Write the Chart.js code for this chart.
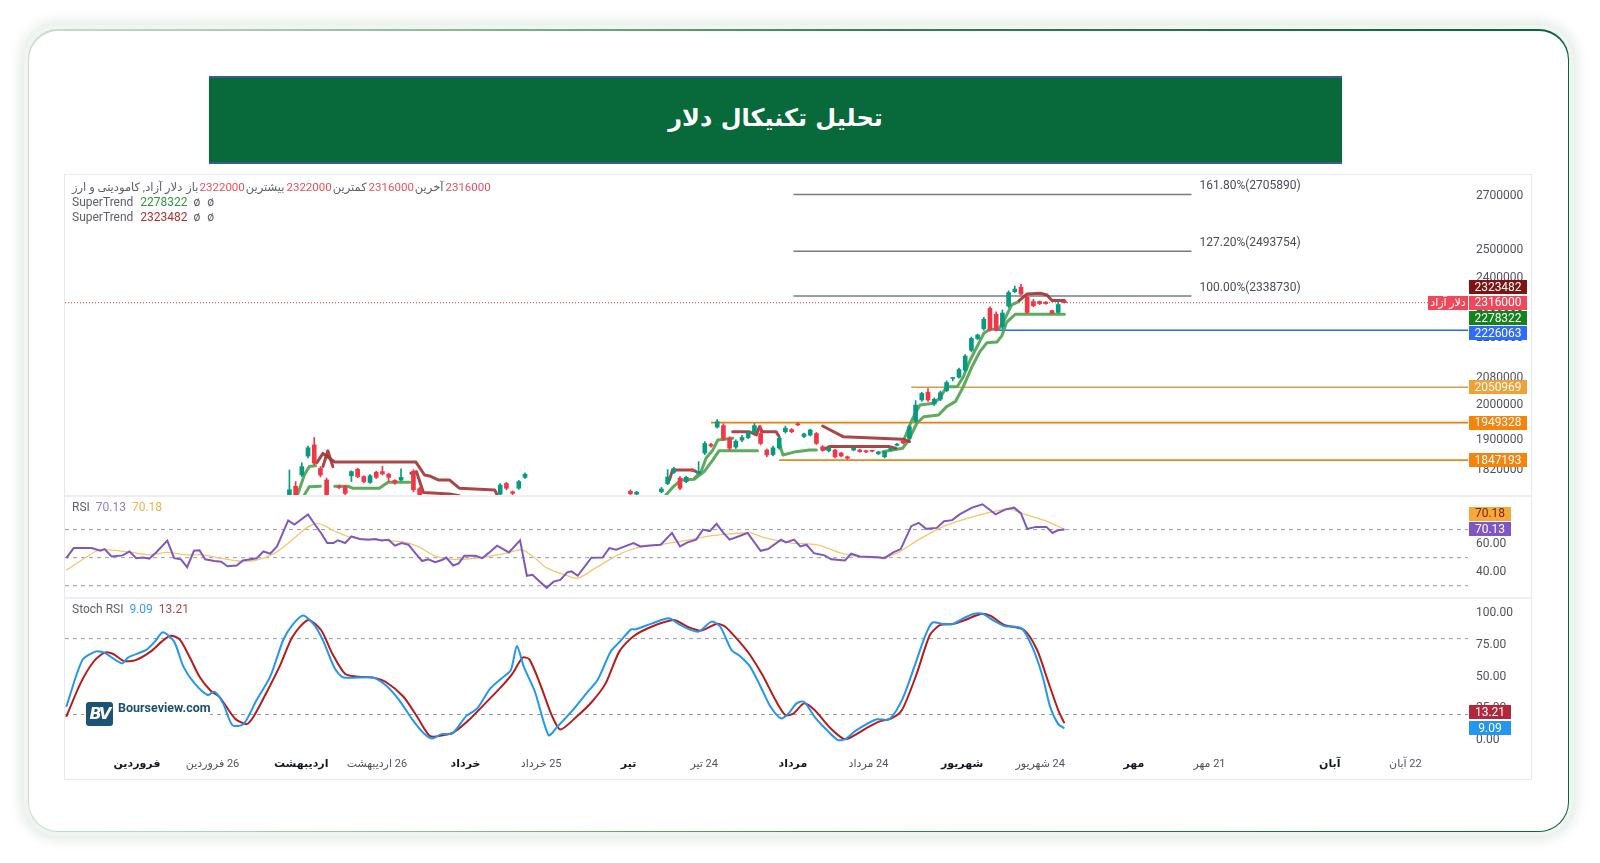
<!DOCTYPE html>
<html lang="fa">
<head>
<meta charset="utf-8">
<title>تحلیل تکنیکال دلار</title>
<script src="https://cdn.jsdelivr.net/npm/chart.js@4.4.1/dist/chart.umd.min.js"></script>
<style>
  html, body { margin: 0; padding: 0; width: 1600px; height: 863px; overflow: hidden; background: #ffffff; }
  body { position: relative; font-family: Roboto, "DejaVu Sans", sans-serif; }
  .card { position: absolute; left: 28px; top: 29px; width: 1541px; height: 803px; border-radius: 30px;
    background: linear-gradient(90deg, #c9dccd 0%, #8fbf9c 25%, #2f8253 55%, #0a6536 100%);
    box-shadow: 0 0 0 4px #f1f5f2, 0 0 14px 8px #e3ebe5; }
  .card-inner { position: absolute; left: 1px; right: 1px; top: 2px; bottom: 1px; border-radius: 29px; background: #fff; }
  .banner { position: absolute; left: 209px; top: 76px; width: 1133px; height: 88px; box-sizing: border-box;
    background: #08693a; border-top: 2px solid #3c5b8f; border-bottom: 2px solid #3c5b8f;
    display: flex; align-items: center; justify-content: center; direction: rtl;
    color: #fff; font: bold 24px "DejaVu Sans", sans-serif; padding-bottom: 4px; }
  .panel { position: absolute; left: 64px; top: 174px; width: 1468px; height: 606px; box-sizing: border-box;
    border: 1px solid #e7e9ec; background: #fff; }
  .sep { position: absolute; left: 65px; width: 1466px; height: 2px; background: #eceef1; }
  canvas { position: absolute; left: 65px; }
  .logo { position: absolute; left: 84px; top: 700px; width: 126px; height: 28px; background: #fff; }
  .logo .bv { position: absolute; left: 2px; top: 2px; width: 27px; height: 24px; border-radius: 3px; background: #1b5473;
    color: #fff; font: italic bold 16px "DejaVu Sans", sans-serif; line-height: 24px; text-align: center; letter-spacing: -2px; }
  .logo .name { position: absolute; left: 34px; top: 0; line-height: 28px; color: #1b4f6e; font: bold 12.5px Roboto, sans-serif; }
</style>
</head>
<body>
<div class="card"><div class="card-inner"></div></div>
<div class="banner">تحلیل تکنیکال دلار</div>
<div class="panel"></div>
<canvas id="priceChart" width="1466" height="319" style="top:176px"></canvas>
<div class="sep" style="top:495px"></div>
<canvas id="rsiChart" width="1466" height="100" style="top:497px"></canvas>
<div class="sep" style="top:597px"></div>
<canvas id="stochChart" width="1466" height="180" style="top:599px" dir="rtl"></canvas>
<div class="logo"><span class="bv">BV</span><span class="name">Bourseview.com</span></div>

<script>
// ---- data (bar index on x, one bar per trading day) ----
const candleIndex = [36, 37, 38, 39, 40, 41, 42, 44, 45, 46, 47, 48, 49, 50, 51, 52, 53, 54, 56, 57,
  70, 71, 72, 73, 74, 91, 92, 96,
  97, 98, 99, 100, 101, 102, 103, 104, 105, 106,
  107, 108, 109, 110, 111, 112, 113, 114, 115, 116,
  117, 118, 119, 120, 121, 122, 123, 124, 125, 126,
  127, 128, 129, 130, 131, 132, 133, 134, 135, 136,
  137, 138, 139, 140, 141, 142, 143, 144, 145, 146,
  147, 148, 149, 150, 151, 152, 153, 154, 155, 156,
  157, 158, 159, 160, 161];
const candleOpen = [1750000, 1779000, 1808000, 1858000, 1888000, 1825000, 1795000, 1779000, 1779000, 1806000,
  1823000, 1804000, 1789000, 1815000, 1817000, 1810000, 1794000, 1795000, 1817000, 1773000,
  1759000, 1786000, 1765000, 1774000, 1802000, 1766000, 1759000, 1765000,
  1786000, 1815000, 1800000, 1791000, 1822000, 1812000, 1866000, 1889000, 1937000, 1941000,
  1906000, 1882000, 1901000, 1908000, 1922000, 1919000, 1874000, 1862000, 1880000, 1924000,
  1930000, 1946000, 1911000, 1915000, 1919000, 1883000, 1872000, 1874000, 1866000, 1856000,
  1874000, 1874000, 1872000, 1872000, 1864000, 1856000, 1874000, 1887000, 1899000, 1906000,
  1953000, 2014000, 2036000, 2002000, 2016000, 2041000, 2077000, 2081000, 2102000, 2163000,
  2200000, 2231000, 2297000, 2278000, 2237000, 2305000, 2353000, 2368000, 2334000, 2320000,
  2320000, 2318000, 2290000, 2284000, 2322000];
const candleHigh = [1821000, 1791000, 1840000, 1885000, 1908000, 1830000, 1800000, 1782000, 1781000, 1819000,
  1826000, 1806000, 1809000, 1818000, 1831000, 1813000, 1796000, 1824000, 1822000, 1776000,
  1786000, 1789000, 1767000, 1794000, 1814000, 1770000, 1766000, 1776000,
  1822000, 1828000, 1804000, 1805000, 1824000, 1843000, 1897000, 1893000, 1958000, 1946000,
  1910000, 1902000, 1914000, 1926000, 1947000, 1941000, 1877000, 1885000, 1912000, 1940000,
  1933000, 1950000, 1920000, 1931000, 1922000, 1886000, 1881000, 1876000, 1868000, 1858000,
  1881000, 1876000, 1874000, 1873000, 1871000, 1871000, 1881000, 1892000, 1902000, 1942000,
  2012000, 2036000, 2047000, 2020000, 2040000, 2070000, 2080000, 2108000, 2150000, 2205000,
  2214000, 2268000, 2302000, 2286000, 2292000, 2356000, 2372000, 2378000, 2342000, 2327000,
  2322000, 2320000, 2292000, 2320000, 2322000];
const candleLow = [1745000, 1745000, 1804000, 1853000, 1835000, 1803000, 1745000, 1773000, 1757000, 1791000,
  1801000, 1788000, 1786000, 1799000, 1808000, 1791000, 1784000, 1793000, 1765000, 1750000,
  1754000, 1770000, 1758000, 1771000, 1799000, 1757000, 1756000, 1762000,
  1783000, 1812000, 1770000, 1788000, 1817000, 1810000, 1862000, 1882000, 1934000, 1900000,
  1873000, 1878000, 1897000, 1905000, 1919000, 1888000, 1856000, 1858000, 1876000, 1920000,
  1921000, 1941000, 1908000, 1912000, 1889000, 1872000, 1869000, 1853000, 1856000, 1849000,
  1872000, 1868000, 1867000, 1869000, 1862000, 1853000, 1872000, 1885000, 1891000, 1903000,
  1950000, 2010000, 2010000, 1998000, 2012000, 2038000, 2070000, 2078000, 2098000, 2158000,
  2196000, 2226000, 2224000, 2224000, 2230000, 2300000, 2350000, 2342000, 2280000, 2303000,
  2310000, 2311000, 2279000, 2282000, 2316000];
const candleClose = [1770000, 1752000, 1830000, 1880000, 1839000, 1808000, 1752000, 1776000, 1761000, 1817000,
  1804000, 1791000, 1806000, 1802000, 1811000, 1802000, 1787000, 1802000, 1770000, 1755000,
  1782000, 1774000, 1761000, 1791000, 1810000, 1760000, 1764000, 1772000,
  1803000, 1824000, 1774000, 1802000, 1819000, 1817000, 1892000, 1885000, 1952000, 1904000,
  1879000, 1898000, 1908000, 1922000, 1941000, 1892000, 1861000, 1880000, 1906000, 1934000,
  1924000, 1943000, 1918000, 1929000, 1892000, 1874000, 1879000, 1856000, 1858000, 1852000,
  1879000, 1870000, 1869000, 1871000, 1869000, 1869000, 1879000, 1890000, 1893000, 1938000,
  1999000, 2033000, 2014000, 2016000, 2035000, 2065000, 2078000, 2104000, 2145000, 2200000,
  2211000, 2262000, 2227000, 2227000, 2282000, 2350000, 2362000, 2345000, 2284000, 2306000,
  2313000, 2313000, 2281000, 2310000, 2316000];

// supertrend pieces: [bar, price]
const superTrendUp = [
  [[37.3, 1756800], [38.4, 1808200], [39.2, 1830000], [40.2, 1832000]],
  [[38.4, 1756800], [39.2, 1778000], [41, 1779000]],
  [[43.3, 1779000], [45.4, 1779000], [46.2, 1774000], [50.5, 1774000], [51.9, 1789000], [55.4, 1789000]],
  [[96.5, 1752600], [97.8, 1775900], [99.2, 1795300], [101.3, 1797100], [102.9, 1816900], [104.3, 1847600], [105.3, 1872400], [111.5, 1872400]],
  [[101.3, 1799700], [102.4, 1816900], [103.2, 1852100], [104.3, 1874300], [105.1, 1901300], [107.5, 1906000]],
  [[115, 1892300], [115.6, 1860900], [117.7, 1869700], [119.9, 1874300], [121, 1874300]],
  [[131.7, 1869700], [134.9, 1878900], [135.9, 1901300], [137.2, 1947600], [138.3, 1966000], [140.7, 1970900], [142, 1994700], [143.4, 2009000], [144.7, 2052700], [146.1, 2112800], [147.4, 2159800], [148.5, 2186700], [150.1, 2188600], [150.9, 2208200], [151.7, 2252600], [153.1, 2278322], [161, 2278322]],
  [[135.1, 1901300], [136.4, 1956700], [137.7, 1999500], [139.9, 2004400], [140.9, 2018900], [142, 2052700], [143.7, 2052700], [144.7, 2082300], [145.8, 2133000], [146.9, 2174100], [148, 2216300], [149, 2229100], [150.4, 2229100], [151.3, 2259300], [152.5, 2308800], [153.6, 2319800]]
];
const superTrendDown = [
  [[40.4, 1840000], [41.4, 1865000], [43.3, 1842000], [56.4, 1842000], [57.8, 1808000], [58.6, 1805500], [60, 1795300], [61.8, 1795300], [63.4, 1774000], [69.1, 1769700], [69.9, 1744200]],
  [[41.4, 1830000], [42.2, 1872000], [43, 1830000]],
  [[55.6, 1812600], [56.5, 1816500], [57.6, 1763000], [61.8, 1759600], [63.4, 1754800]],
  [[97.3, 1795300], [97.8, 1821300], [101, 1821300], [101.6, 1816900]],
  [[107.5, 1924000], [110.2, 1924000], [111.3, 1915000], [111.8, 1938000], [112.3, 1924000], [114.5, 1924000], [115, 1910000]],
  [[122, 1940000], [125.3, 1910400], [134.9, 1903300], [136, 1896800]],
  [[122, 1874300], [123.1, 1883300], [132.8, 1883300], [133.8, 1878900]],
  [[153.7, 2323100], [155, 2345400], [157.1, 2347800], [158.2, 2342000], [159, 2323100], [161, 2323482]]
];

const fibValues = [2705890, 2493754, 2338730];
const fibTexts = ["161.80%(2705890)", "127.20%(2493754)", "100.00%(2338730)"];
const fibFrom = 117.3, fibTo = 181.5;

const levelValues = [2226063, 2050969, 1949328, 1847193];
const levelFrom = [149.8, 136.3, 104, 115];
const levelColors = ["#2962ff", "#d99a45", "#f57c00", "#e08a1e"];

const lastPrice = 2316000;
const priceTicks = [1820000, 1900000, 2000000, 2080000, 2200000, 2300000, 2400000, 2500000, 2700000];

const rsiLine = [[0, 49.6], [1.2, 56.8], [4.1, 56.8], [5.5, 54.9], [6.2, 56.1], [7.3, 50.8], [9.1, 51.6], [10.2, 54.4], [11.3, 49.6], [12.4, 50.1],
  [13.4, 49.3], [14.5, 53.7], [16.3, 62.1], [17.4, 49.6], [18.5, 48.8], [19.5, 43.2], [20.6, 54.9], [21.5, 55.2], [22.4, 48.8], [23.9, 47.6],
  [25, 47.1], [26, 43.9], [27.5, 44.4], [28.5, 48], [30.7, 49.5], [31.8, 54.4], [32.9, 52.8], [34, 58], [35.8, 76.5], [36.8, 73.6],
  [37.9, 77.2], [39, 80.8], [40.1, 73.6], [41.1, 67.6], [42.1, 60.4], [43.1, 60.4], [43.8, 62.3], [45, 60.4], [46, 65.2], [47.3, 63.3],
  [48.7, 62.8], [49.8, 63.3], [50.9, 62.3], [52, 62.8], [53, 58.5], [54.1, 60.4], [55.2, 59.2], [56.3, 53.2], [57.4, 47.6], [58.4, 48.8],
  [59.5, 46.8], [60.6, 48.3], [61.3, 50], [62.4, 44.4], [63.3, 45.9], [64.2, 51.3], [66, 51.3], [67.1, 49.6], [68.1, 53.2], [69.5, 58.5],
  [71.4, 53.7], [73.2, 62.3], [74.3, 37.1], [75.2, 37.8], [76.4, 32.9], [77.5, 28.5], [78.6, 32.9], [79.7, 34.1], [80.8, 39.5], [81.5, 40.2],
  [82.5, 37.1], [84.7, 50], [86.5, 50.1], [87.6, 56.8], [88.7, 55.6], [90.1, 58], [91.5, 60.4], [92.6, 58], [94.1, 58.7], [95.9, 59.2],
  [97.7, 67.6], [99, 58], [100.2, 60.9], [101.6, 62.8], [102.7, 70], [103.8, 68.8], [104.9, 74.1], [106, 67.6], [107, 62.8], [108.5, 65.2],
  [109.9, 67.6], [112, 54.9], [113.2, 56.1], [115.3, 62.8], [116.1, 60.9], [117.4, 62.8], [118.4, 58], [119.4, 59.2], [120.6, 53.2], [122.3, 51.6],
  [123.4, 48.8], [125.6, 48], [126.6, 52.8], [128, 50.8], [130.9, 50.3], [132, 49.6], [133.4, 53.7], [134.6, 56.1], [136.3, 72.4], [137.5, 74.8],
  [138.7, 70.5], [140.4, 71.2], [141.6, 76], [142.9, 76.7], [144.1, 80.8], [146.1, 85.6], [147.8, 88], [149.9, 80.8], [151.5, 84.4], [152.9, 85.6],
  [154, 81.5], [155, 70.5], [156.4, 71.9], [158.1, 71.9], [159.1, 67.6], [159.9, 69.5], [161, 70.13]];
const rsiAverage = [[0, 41], [2.7, 48.8], [5, 54.9], [7, 55.6], [10.6, 53.7], [13.4, 52], [16.3, 53.7], [19.2, 52], [22.1, 52], [24.3, 50],
  [27.8, 47.6], [30.7, 48.3], [33.6, 53.2], [36.5, 62.8], [39, 71.9], [40.8, 74.1], [43, 69.5], [45.9, 64.5], [49.5, 62.8], [54.5, 61.1],
  [56.7, 58], [59.5, 51.3], [62.4, 48.8], [65.3, 49.3], [68.1, 50.8], [71, 53.2], [73.5, 55.6], [75.3, 50.8], [77.5, 42.7], [80.4, 37.8],
  [82.5, 35.4], [85.4, 42.7], [89, 52], [91.9, 56.8], [95.5, 59.2], [99.8, 62.1], [103.4, 65.2], [107, 66.9], [110.3, 67.6], [112.7, 64],
  [117, 60.4], [121, 59.2], [125, 53.2], [128.3, 50.3], [131.5, 50.1], [134, 53.2], [137.5, 62.8], [141.6, 72.4], [145.7, 78.4], [149.9, 83.2],
  [152.3, 84.4], [154.7, 80.8], [158.1, 76], [161, 70.18]];
const rsiLevels = [70, 50, 30];
const rsiTicks = [40, 60, 80];

const stochK = [[0, 26], [2.6, 63], [4.7, 69.7], [6.1, 68.9], [9, 60.4], [10, 65.2], [12.9, 71], [14.3, 77.6], [15.6, 85], [17.4, 77.6],
  [18.9, 57.8], [20.7, 44.6], [22.8, 35.4], [23.9, 38], [25.3, 28.8], [26.8, 11.6], [28.6, 12.4], [30.7, 31.4], [32.9, 49.9], [35, 78.9],
  [36.5, 90.8], [38.2, 98.2], [40, 90.8], [41.5, 77.6], [43.3, 56.5], [44.7, 49.3], [49.4, 49.3], [51.5, 43.3], [53.7, 31.4], [55.9, 15.6],
  [57.7, 5], [59.1, 1], [60.5, 4.5], [62.3, 5], [64.5, 18.7], [66.3, 24.8], [68.4, 40.6], [70.2, 48.5], [71.7, 55.1], [72.7, 74.1],
  [73.8, 57.8], [75.6, 38], [77.8, 3.7], [79.2, 10.3], [81.7, 23.5], [83.9, 36.7], [85.7, 47.2], [87.8, 69.7], [89.3, 77.6], [91.1, 87.3],
  [91.8, 87.3], [94.3, 91.6], [97.2, 96], [99, 90.8], [101.9, 85.5], [104.1, 93.4], [105.5, 89.4], [107.3, 71], [108.7, 66], [110.3, 57.8],
  [112, 42], [113.6, 26.1], [115.3, 16.9], [116.5, 20.8], [117.8, 28.8], [119, 30.1], [120.7, 18.2], [122.8, 7.1], [124.4, 0], [125.6, 0.3],
  [127.3, 7.1], [130.6, 16.1], [132.7, 16.1], [134.8, 31.4], [136.8, 57.8], [138.5, 81.5], [139.7, 92.6], [141.4, 91.6], [143, 91.6], [144.7, 96],
  [146.3, 99.5], [147.9, 99.5], [149.6, 94.2], [151.3, 90], [154.1, 88.1], [155.8, 73.6], [157.5, 49.9], [158.7, 26.1], [160, 12.4], [161, 9.09]];
const stochD = [[0, 18.2], [2.3, 44.6], [4.4, 61.7], [6.2, 68.9], [7.6, 67.8], [9.3, 62.3], [11.2, 63], [13.6, 69.7], [15.4, 77.6], [16.8, 82.3],
  [18.3, 79.4], [20, 64.4], [21.5, 49.9], [23.3, 38.8], [24.7, 34], [27.2, 16.9], [29.1, 12.4], [30.2, 18.2], [32.1, 35.4], [34.4, 57.8],
  [36.5, 81.5], [39, 94.7], [41.1, 86.8], [42.9, 68.3], [45, 52], [47.2, 49.9], [49.4, 49.3], [51.5, 45.9], [54.4, 34], [56.6, 18.2],
  [58.7, 2.9], [60.9, 3.7], [62.6, 6.3], [65.2, 16.9], [68.1, 31.4], [70.2, 42], [72, 52.5], [73.6, 64.9], [74.7, 63.6], [76.5, 43.3],
  [78.3, 19.5], [79.7, 8.2], [82.3, 18.2], [84.8, 30.1], [87, 44.6], [89.2, 69.7], [91.4, 81.5], [94.4, 89.4], [98, 94.7], [100.2, 89.4],
  [102.4, 86.3], [104.9, 91.6], [106.3, 89.4], [108.7, 76.8], [110.3, 67], [112.3, 51.2], [114.4, 31.4], [116, 19.5], [117.3, 20.8], [119, 28.8],
  [120.7, 23.5], [123.2, 9.5], [125.3, 1], [126.5, 1.8], [129, 9], [131, 14.2], [133.1, 16.9], [134.8, 23.5], [137.2, 52.5], [139.3, 82.8],
  [141, 90.8], [143, 91.6], [145, 94.7], [147.5, 99.5], [149.1, 97.9], [151.3, 90.8], [154.5, 86.8], [156.6, 71], [158.3, 47.2], [160, 23.5], [161, 13.21]];
const stochLevels = [80, 20];
const stochTicks = [0, 25, 50, 75, 100];

const timeTickPos = [11.4, 23.6, 37.9, 50.1, 64.4, 76.6, 90.7, 102.9, 117.2, 129.4, 144.5, 157.1, 172.2, 184.4, 203.8, 216];
const timeTickText = ["فروردین", "26 فروردین", "اردیبهشت", "26 اردیبهشت", "خرداد", "25 خرداد", "تیر", "24 تیر",
  "مرداد", "24 مرداد", "شهریور", "24 شهریور", "مهر", "21 مهر", "آبان", "22 آبان"];

// ---- view ----
const X_MIN = -0.2, X_MAX = 226.1;
const AXIS_W = 63;
const FONT = "Roboto, 'DejaVu Sans', sans-serif";
const UP = "#089981", DOWN = "#f23645";
const ST_UP = "rgba(84,166,86,0.95)", ST_DOWN = "rgba(163,54,54,0.92)";

Chart.defaults.font.family = FONT;

const toPoints = (pairs) => pairs.map((p) => ({ x: p[0], y: p[1] }));

function hLine(value, from, to, color, width, dash) {
  return {
    type: "line",
    data: [{ x: from, y: value }, { x: to, y: value }],
    borderColor: color,
    borderWidth: width,
    borderDash: dash || [],
    pointRadius: 0,
    fill: false,
  };
}

function stLine(pairs, color) {
  return {
    type: "line",
    data: toPoints(pairs),
    borderColor: color,
    borderWidth: 3,
    borderJoinStyle: "round",
    borderCapStyle: "round",
    pointRadius: 0,
    tension: 0,
    fill: false,
  };
}

function drawTag(ctx, x, y, w, h, bg, fg, text) {
  ctx.fillStyle = bg;
  ctx.fillRect(x, Math.round(y - h / 2), w, h);
  ctx.fillStyle = fg;
  ctx.textAlign = "center";
  ctx.textBaseline = "middle";
  ctx.fillText(text, x + w / 2, y + 0.5);
}

// keep the anchor tag on its value and push the others away from it
function stackTags(ys, anchor, gap) {
  const out = ys.slice();
  for (let i = anchor - 1; i >= 0; i--) out[i] = Math.min(ys[i], out[i + 1] - gap);
  for (let i = anchor + 1; i < ys.length; i++) out[i] = Math.max(ys[i], out[i - 1] + gap);
  return out;
}

function drawRuns(ctx, runs, x, y) {
  ctx.textAlign = "left";
  ctx.textBaseline = "middle";
  runs.forEach(([text, color, gap]) => {
    ctx.fillStyle = color;
    ctx.fillText(text, x, y);
    x += ctx.measureText(text).width + gap;
  });
}

// fixed axis width and no label padding, so the three panes share one x mapping
function fitRight(s) {
  s.width = AXIS_W;
  s.paddingTop = 0;
  s.paddingBottom = 0;
}

function rightAxis(extra) {
  return Object.assign({
    position: "right",
    beginAtZero: false,
    afterFit: fitRight,
    grid: { display: false, drawTicks: false },
    border: { display: false },
  }, extra);
}

const baseOptions = {
  responsive: false,
  animation: false,
  events: [],
  layout: { padding: 0 },
  plugins: { legend: { display: false }, tooltip: { enabled: false } },
};

const hiddenX = { type: "linear", min: X_MIN, max: X_MAX, offset: false, display: false };

document.addEventListener("DOMContentLoaded", () => {
  const GRAY = "#5d606b";
  const NUM_RED = "#e8505b";

  // ---------- price pane ----------
  const bodies = candleIndex.map((b, i) => ({ x: b, y: [candleOpen[i], candleClose[i]] }));
  const wicks = candleIndex.map((b, i) => ({ x: b, y: [candleLow[i], candleHigh[i]] }));
  const candleColor = (c) => (candleClose[c.dataIndex] >= candleOpen[c.dataIndex] ? UP : DOWN);

  const priceSets = [
    { type: "bar", data: bodies, backgroundColor: candleColor, barThickness: 4, grouped: false, minBarLength: 1, borderWidth: 0 },
    { type: "bar", data: wicks, backgroundColor: candleColor, barThickness: 1, grouped: false, borderWidth: 0 },
  ];
  superTrendDown.forEach((seg) => priceSets.push(stLine(seg, ST_DOWN)));
  superTrendUp.forEach((seg) => priceSets.push(stLine(seg, ST_UP)));
  levelValues.forEach((v, i) => priceSets.push(hLine(v, levelFrom[i], X_MAX, levelColors[i], 1.6)));
  fibValues.forEach((v) => priceSets.push(hLine(v, fibFrom, fibTo, "#787b86", 1.4)));
  priceSets.push(hLine(lastPrice, X_MIN, X_MAX, "#f23645", 1, [1, 2]));

  const pricePane = {
    id: "pricePane",
    afterDraw(chart) {
      const { ctx, chartArea, scales } = chart;
      const x = scales.x, y = scales.y;
      ctx.save();
      ctx.direction = "ltr";

      // fib labels
      ctx.font = "12px " + FONT;
      ctx.fillStyle = "#4a4d57";
      ctx.textAlign = "left";
      ctx.textBaseline = "alphabetic";
      fibValues.forEach((v, i) => ctx.fillText(fibTexts[i], x.getPixelForValue(fibTo) + 8, y.getPixelForValue(v) - 5));

      // right side tags
      const tagVals = [2323482, lastPrice, 2278322, 2226063, 2050969, 1949328, 1847193];
      const tagBg = ["#7d1313", "#f0485a", "#14821d", "#2f6bff", "#f0a23a", "#f5840c", "#f5840c"];
      const ys = stackTags(tagVals.map((v) => y.getPixelForValue(v)), 1, 15.3);
      const tx = chartArea.right + 1;
      ctx.font = "12px " + FONT;
      tagVals.forEach((v, i) => drawTag(ctx, tx, ys[i], 58, 14, tagBg[i], "#ffffff", String(v)));
      ctx.font = "11px " + FONT;
      drawTag(ctx, chartArea.right - 40, ys[1], 40, 14, "#f0485a", "#ffffff", "دلار آزاد");

      // legend
      ctx.font = "11.5px " + FONT;
      drawRuns(ctx, [
        ["دلار آزاد, کامودیتی و ارز", GRAY, 4], ["باز", GRAY, 1], ["2322000", NUM_RED, 1],
        ["بیشترین", GRAY, 2], ["2322000", NUM_RED, 1], ["کمترین", GRAY, 2], ["2316000", NUM_RED, 1],
        ["آخرین", GRAY, 2], ["2316000", NUM_RED, 0],
      ], 7, 12);
      ctx.font = "12px " + FONT;
      drawRuns(ctx, [["SuperTrend", GRAY, 7], ["2278322", "#2e9a3e", 6], ["ø", GRAY, 7], ["ø", GRAY, 0]], 7, 27);
      drawRuns(ctx, [["SuperTrend", GRAY, 7], ["2323482", "#b03030", 6], ["ø", GRAY, 7], ["ø", GRAY, 0]], 7, 42);
      ctx.restore();
    },
  };

  new Chart(document.getElementById("priceChart"), {
    type: "line",
    data: { datasets: priceSets },
    options: Object.assign({}, baseOptions, {
      scales: {
        x: hiddenX,
        y: rightAxis({
          type: "logarithmic",
          min: 1756800,
          max: 2778700,
          afterBuildTicks: (s) => { s.ticks = priceTicks.map((v) => ({ value: v })); },
          ticks: { padding: 8, autoSkip: false, color: "#50535e", font: { family: FONT, size: 12 }, callback: (v) => String(v) },
        }),
      },
    }),
    plugins: [pricePane],
  });

  // ---------- RSI pane ----------
  const rsiSets = [
    { type: "line", data: toPoints(rsiLine), borderColor: "#7e57c2", borderWidth: 2, pointRadius: 0, tension: 0 },
    { type: "line", data: toPoints(rsiAverage), borderColor: "#f8c56a", borderWidth: 1.3, pointRadius: 0, tension: 0.3 },
  ];
  rsiLevels.forEach((v) => rsiSets.push(hLine(v, X_MIN, X_MAX, "#9a9da6", 1, [4, 4])));

  const rsiPane = {
    id: "rsiPane",
    afterDraw(chart) {
      const { ctx, chartArea, scales } = chart;
      ctx.save();
      ctx.direction = "ltr";
      ctx.font = "12px " + FONT;
      const ys = stackTags([70.18, 70.13].map((v) => scales.y.getPixelForValue(v)), 1, 15.5);
      drawTag(ctx, chartArea.right + 1, ys[0], 42, 14, "#f6a93b", "#7a2410", "70.18");
      drawTag(ctx, chartArea.right + 1, ys[1], 42, 14, "#7e57c2", "#ffffff", "70.13");
      drawRuns(ctx, [["RSI", GRAY, 6], ["70.13", "#8a80cf", 6], ["70.18", "#f2b24c", 0]], 7, 11);
      ctx.restore();
    },
  };

  new Chart(document.getElementById("rsiChart"), {
    type: "line",
    data: { datasets: rsiSets },
    options: Object.assign({}, baseOptions, {
      scales: {
        x: hiddenX,
        y: rightAxis({
          type: "linear",
          min: 21.96,
          max: 93.2,
          afterBuildTicks: (s) => { s.ticks = rsiTicks.map((v) => ({ value: v })); },
          ticks: { padding: 8, autoSkip: false, color: "#50535e", font: { family: FONT, size: 12 }, callback: (v) => v.toFixed(2) },
        }),
      },
    }),
    plugins: [rsiPane],
  });

  // ---------- Stoch RSI pane ----------
  const stochSets = [
    { type: "line", data: toPoints(stochK), borderColor: "#2196f3", borderWidth: 2, pointRadius: 0, tension: 0.25 },
    { type: "line", data: toPoints(stochD), borderColor: "#b71c1c", borderWidth: 2, pointRadius: 0, tension: 0.25 },
  ];
  stochLevels.forEach((v) => stochSets.push(hLine(v, X_MIN, X_MAX, "#9a9da6", 1, [4, 4])));

  const stochPane = {
    id: "stochPane",
    afterDraw(chart) {
      const { ctx, chartArea, scales } = chart;
      ctx.save();
      ctx.direction = "ltr";
      ctx.font = "12px " + FONT;
      const ys = stackTags([13.21, 9.09].map((v) => scales.y.getPixelForValue(v)), 1, 16);
      drawTag(ctx, chartArea.right + 1, ys[0], 42, 14, "#b2283a", "#ffffff", "13.21");
      drawTag(ctx, chartArea.right + 1, ys[1], 42, 14, "#2196f3", "#ffffff", "9.09");
      drawRuns(ctx, [["Stoch RSI", GRAY, 6], ["9.09", "#3a9be8", 6], ["13.21", "#b3404a", 0]], 7, 11);
      ctx.restore();
    },
  };

  new Chart(document.getElementById("stochChart"), {
    type: "line",
    data: { datasets: stochSets },
    options: Object.assign({}, baseOptions, {
      scales: {
        x: {
          type: "linear",
          min: X_MIN,
          max: X_MAX,
          offset: false,
          afterFit: (s) => { s.height = 27; s.paddingLeft = 0; s.paddingRight = 0; },
          afterBuildTicks: (s) => { s.ticks = timeTickPos.map((v) => ({ value: v })); },
          grid: { display: false, drawTicks: false },
          border: { display: false },
          ticks: {
            autoSkip: false,
            maxRotation: 0,
            minRotation: 0,
            padding: 6,
            callback: (v, i) => timeTickText[i],
            color: (c) => (c.index % 2 === 0 ? "#131722" : "#50535e"),
            font: (c) => ({ family: FONT, size: 11, weight: c.index % 2 === 0 ? "bold" : "normal" }),
          },
        },
        y: rightAxis({
          type: "linear",
          min: -9.64,
          max: 111.3,
          afterBuildTicks: (s) => { s.ticks = stochTicks.map((v) => ({ value: v })); },
          ticks: { padding: 8, autoSkip: false, color: "#50535e", font: { family: FONT, size: 12 }, callback: (v) => v.toFixed(2) },
        }),
      },
    }),
    plugins: [stochPane],
  });
});
</script>
</body>
</html>
